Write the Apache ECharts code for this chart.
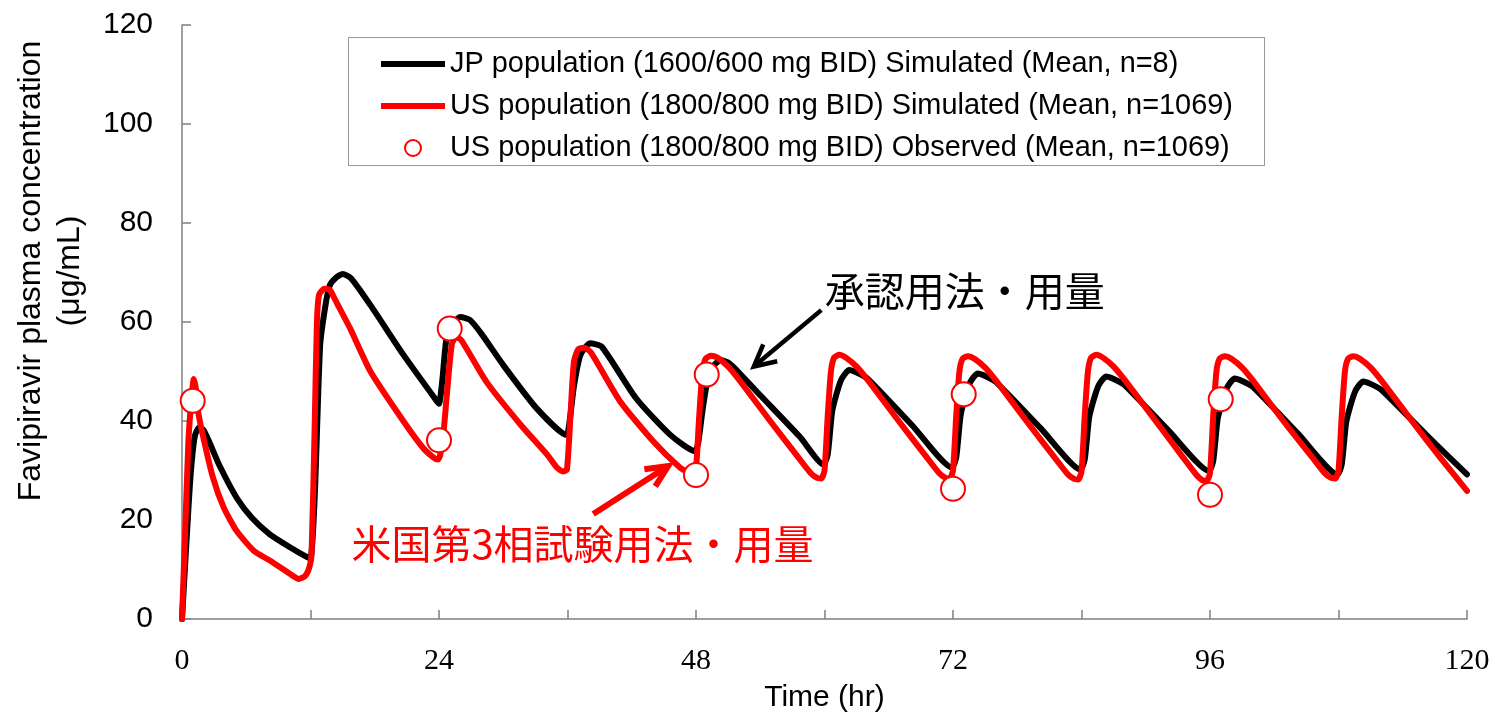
<!DOCTYPE html>
<html>
<head>
<meta charset="utf-8">
<script src="https://cdn.jsdelivr.net/npm/echarts@6/dist/echarts.min.js"></script>
<style>
html,body{margin:0;padding:0;background:#fff;}
#chart{width:1495px;height:718px;}
</style>
</head>
<body>
<div id="chart"></div>
<script>
// ---------- data ----------
const seriesNames = [
  'JP population (1600/600 mg BID) Simulated (Mean, n=8)',
  'US population (1800/800 mg BID) Simulated (Mean, n=1069)',
  'US population (1800/800 mg BID) Observed (Mean, n=1069)'
];

// JP simulated (black)
const timeJP = [0,0.4,0.8,1.2,1.6,2.0,2.6,3.5,5.1,6.5,8.2,10.0,11.6,12.0,12.4,12.9,13.4,13.8,14.4,15.0,15.8,17.6,20.7,23.8,24.0,24.3,24.7,25.3,26.0,26.9,28.0,30.0,33.1,35.9,36.2,36.6,37.2,38.1,39.2,42.4,45.6,47.9,48.2,48.6,49.1,49.7,50.3,51.0,52.0,54.0,57.7,59.9,
  60.3,60.7,61.1,61.6,62.3,63.0,64.0,68.2,71.9,
  72.3,72.7,73.1,73.6,74.3,75.0,76.0,80.2,83.9,
  84.3,84.7,85.1,85.6,86.3,87.0,88.0,92.2,95.9,
  96.3,96.7,97.1,97.6,98.3,99.0,100.0,104.2,107.9,
  108.3,108.7,109.1,109.6,110.3,111.0,112.0,116.2,120.0];
const concJP = [0,15,29,37,38.7,38.2,35.5,31,24.5,20.5,17.1,14.6,12.6,12.3,25,55.3,63.4,67.4,69.0,69.7,68.8,63.4,53.3,44.0,43.5,48,56.7,59.8,61.0,60.4,57.5,51.3,42.6,37.2,40,47,53.3,55.7,55.0,44.6,37.2,33.9,35.5,42,48.5,51.3,52.3,51.8,49.8,45.2,36.8,31.2,
  33.2,41.7,45.3,48.5,50.3,49.8,48.6,39.1,30.6,
  32.6,41.0,44.6,47.8,49.6,49.1,47.9,38.5,30.2,
  32.2,40.5,44.0,47.2,49.0,48.5,47.3,37.9,29.9,
  31.9,40.2,43.6,46.8,48.6,48.1,46.9,37.5,29.2,
  31.2,39.5,43.0,46.2,48.0,47.5,46.3,37.2,29.2];

// US simulated (red)
const timeUS = [0,0.3,0.6,0.9,1.1,1.3,1.5,2.0,2.9,3.9,5.1,6.7,8.2,10.1,10.9,11.5,11.9,12.1,12.4,12.6,12.8,13.3,13.8,14.3,15.7,17.6,20.7,22.5,23.5,23.9,24.1,24.4,24.8,25.2,25.6,26.1,28.4,31.6,34.1,35.0,35.6,35.95,36.3,36.6,37.0,37.6,38.2,40.9,44.0,46.5,47.5,47.9,
  48.3,48.6,48.9,49.4,50.0,51.0,52.0,55.0,57.5,58.7,59.3,59.7,
  60.0,60.3,60.6,60.9,61.4,62.0,63.0,64.0,67.0,69.5,70.7,71.3,71.7,
  72.0,72.3,72.6,72.9,73.4,74.0,75.0,76.0,79.0,81.5,82.7,83.3,83.7,
  84.0,84.3,84.6,84.9,85.4,86.0,87.0,88.0,91.0,93.5,94.7,95.3,95.7,
  96.0,96.3,96.6,96.9,97.4,98.0,99.0,100.0,103.0,105.5,106.7,107.3,107.7,
  108.0,108.3,108.6,108.9,109.4,110.0,111.0,112.0,115.0,117.5,120.0];
const concUS = [0,18,36,45,48.5,46.5,42,36.6,28.5,22.5,17.8,13.8,11.8,9.1,8.1,8.7,10.5,13,40,60,65.5,66.7,66.5,64.5,58.7,50,39.9,34.6,32.6,32.2,33,37.2,47,55.5,57.0,56.3,48,39.3,33.2,30.6,29.8,30.2,42,52,54.5,54.8,53.8,44,35.9,30.6,29.4,29.3,
  41,50,52.6,53.2,52.8,51.0,48.4,39.8,32.8,29.5,28.5,28.4,
  30.0,41,50,52.8,53.4,52.8,51.0,48.4,39.8,32.8,29.5,28.5,28.4,
  30.0,41,50,52.6,53.1,52.6,50.8,48.2,39.6,32.6,29.3,28.3,28.2,
  29.8,41,50,52.8,53.4,52.8,51.0,48.4,39.8,32.6,29.2,28.0,27.9,
  29.5,41,50,52.6,53.1,52.6,50.8,48.2,39.6,32.8,29.5,28.5,28.4,
  30.0,41,50,52.6,53.1,52.6,50.8,48.2,39.6,32.6,25.9];

// US observed (red circles)
const obsTime = [1,24,25,48,49,72,73,96,97];
const obsConc = [44.1,36.1,58.7,29.1,49.4,26.3,45.4,25.1,44.4];

// annotations (data coordinates)
const noteJP = {text:'承認用法・用量', at:[73.1,66.4], from:[59.7,62.4], to:[53.4,51.0]};
const noteUS = {text:'米国第3相試験用法・用量', at:[37.4,15.1], from:[38.4,21.2], to:[45.4,30.9]};

const zip = (a,b) => a.map((v,i)=>[v,b[i]]);

const SANS = '"Liberation Sans", Arial, sans-serif';
const SERIF = '"Liberation Serif", "Times New Roman", serif';
const CJK = '"Noto Sans CJK JP", sans-serif';
const LINE_ICON = 'path://M0,0L62,0L62,6L0,6Z';

const chart = echarts.init(document.getElementById('chart'), null, {renderer:'canvas'});

const option = {
  animation:false,
  backgroundColor:'#ffffff',
  grid:{left:182, right:28, top:25, bottom:96, containLabel:false},
  legend:{
    orient:'vertical', left:376, top:44,
    itemWidth:64, itemHeight:16, itemGap:12,
    textStyle:{fontSize:28.9, fontFamily:SANS, color:'#000', lineHeight:30},
    data:[
      {name:seriesNames[0], icon:LINE_ICON},
      {name:seriesNames[1], icon:LINE_ICON},
      {name:seriesNames[2], icon:'circle'}
    ]
  },
  xAxis:{
    type:'value', min:0, max:120, interval:12,
    name:'Time (hr)', nameLocation:'middle', nameGap:64,
    nameTextStyle:{fontSize:30, fontFamily:SANS, color:'#000'},
    axisLine:{lineStyle:{color:'#808080', width:1.5}},
    axisTick:{inside:true, length:9, lineStyle:{color:'#808080', width:1.5}},
    splitLine:{show:false},
    axisLabel:{margin:27, fontSize:30, fontFamily:SERIF, color:'#000',
      formatter:v => (v % 24 === 0 ? String(v) : '')}
  },
  yAxis:{
    type:'value', min:0, max:120, interval:20,
    name:'Favipiravir plasma concentration\n(μg/mL)', nameLocation:'middle', nameGap:92,
    nameTextStyle:{fontSize:32, fontFamily:SANS, color:'#000', lineHeight:39, padding:[0,0,0,102]},
    axisLine:{show:true, lineStyle:{color:'#808080', width:1.5}},
    axisTick:{show:true, inside:true, length:9, lineStyle:{color:'#808080', width:1.5}},
    splitLine:{show:false},
    axisLabel:{margin:29, fontSize:30, fontFamily:SANS, color:'#000'}
  },
  series:[
    {name:seriesNames[0], type:'line', data:zip(timeJP,concJP), symbol:'none',
     smooth:0.2,
     lineStyle:{color:'#000', width:6, join:'round', cap:'round'}, itemStyle:{color:'#000'}, z:2},
    {name:seriesNames[1], type:'line', data:zip(timeUS,concUS), symbol:'none',
     smooth:0.2,
     lineStyle:{color:'#ff0000', width:6, join:'round', cap:'round'}, itemStyle:{color:'#ff0000'}, z:3},
    {name:seriesNames[2], type:'scatter', data:zip(obsTime,obsConc), symbol:'circle', symbolSize:24,
     itemStyle:{color:'#ffffff', borderColor:'#ff0000', borderWidth:2, opacity:1}, z:4}
  ]
};
chart.setOption(option);

function arrow(from, to, color, width, armLen, armAngleDeg){
  const p0 = chart.convertToPixel({gridIndex:0}, from);
  const p1 = chart.convertToPixel({gridIndex:0}, to);
  const ang = Math.atan2(p0[1]-p1[1], p0[0]-p1[0]);
  const a = armAngleDeg*Math.PI/180;
  const arm1 = [p1[0]+armLen*Math.cos(ang+a), p1[1]+armLen*Math.sin(ang+a)];
  const arm2 = [p1[0]+armLen*Math.cos(ang-a), p1[1]+armLen*Math.sin(ang-a)];
  return [
    {type:'line', shape:{x1:p0[0],y1:p0[1],x2:p1[0],y2:p1[1]}, style:{stroke:color, lineWidth:width, lineCap:'butt'}, z:10},
    {type:'polyline', shape:{points:[arm1,p1,arm2]}, style:{stroke:color, fill:null, lineWidth:width, lineJoin:'miter', lineCap:'butt'}, z:10}
  ];
}
function label(note, color){
  const p = chart.convertToPixel({gridIndex:0}, note.at);
  return {type:'text', x:p[0], y:p[1], z:10,
    style:{text:note.text, fill:color, font:'40px ' + CJK, textAlign:'center', textVerticalAlign:'middle'}};
}

chart.setOption({
  graphic:[
    {type:'rect', shape:{x:348.5, y:37.5, width:916, height:128},
     style:{fill:null, stroke:'#333', lineWidth:1, lineDash:[1,1]}, z:1},
    label(noteJP, '#000'),
    ...arrow(noteJP.from, noteJP.to, '#000', 4.5, 24, 27),
    label(noteUS, '#ff0000'),
    ...arrow(noteUS.from, noteUS.to, '#ff0000', 6, 24, 25)
  ]
});
</script>
</body>
</html>
